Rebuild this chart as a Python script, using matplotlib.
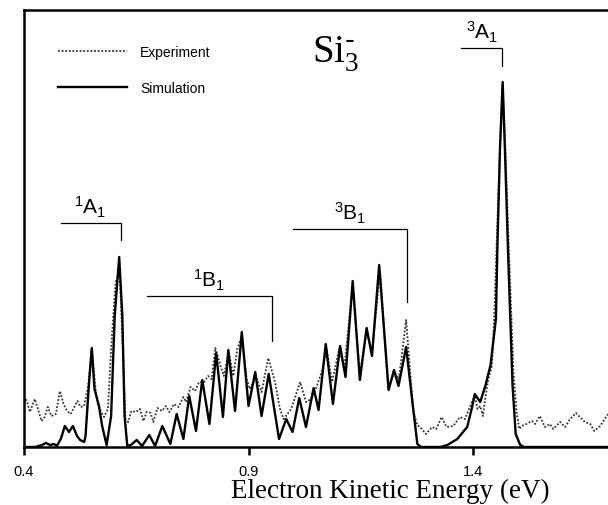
import matplotlib
matplotlib.use("Agg")
import matplotlib.pyplot as plt

plt.rcParams["font.family"] = ["Liberation Sans", "DejaVu Sans"]
plt.rcParams["mathtext.default"] = "regular"

# Simulation (solid) - energy in eV, intensity in arb. units
sim_energy = [
    0.400, 0.425, 0.440, 0.449, 0.458, 0.467, 0.473, 0.482, 0.491, 0.500,
    0.509, 0.518, 0.525, 0.534, 0.537, 0.545, 0.551, 0.557, 0.567, 0.574,
    0.584, 0.594, 0.602, 0.612, 0.619, 0.624, 0.630, 0.638, 0.651, 0.663,
    0.679, 0.692, 0.708, 0.726, 0.740, 0.755, 0.768, 0.783, 0.797, 0.813,
    0.828, 0.843, 0.855, 0.870, 0.885, 0.900, 0.915, 0.929, 0.945, 0.968,
    0.984, 0.998, 1.013, 1.028, 1.045, 1.056, 1.072, 1.088, 1.104, 1.116,
    1.132, 1.148, 1.163, 1.175, 1.191, 1.212, 1.224, 1.234, 1.251, 1.265,
    1.276, 1.284, 1.327, 1.343, 1.365, 1.387, 1.398, 1.404, 1.416, 1.428,
    1.439, 1.451, 1.454, 1.460, 1.466, 1.471, 1.478, 1.488, 1.495, 1.505,
    1.514, 1.700,
]
sim_intensity = [
    0, 0, 2, 4, 2, 3, 1, 8, 21, 15,
    21, 11, 7, 5, 11, 65, 99, 58, 41, 21,
    2, 31, 131, 190, 131, 31, 1, 2, 7, 1,
    12, 1, 21, 3, 33, 8, 51, 16, 67, 23,
    94, 30, 97, 36, 115, 41, 75, 31, 73, 8,
    28, 15, 49, 20, 59, 37, 103, 43, 101, 70,
    166, 67, 119, 91, 182, 57, 77, 61, 100, 45,
    3, 0, 0, 2, 8, 20, 40, 53, 45, 62,
    82, 128, 195, 298, 365, 298, 195, 62, 13, 2,
    0, 0,
]

# Experiment (dotted)
exp_energy = [
    0.400, 0.407, 0.413, 0.424, 0.431, 0.439, 0.446, 0.453, 0.461, 0.471,
    0.480, 0.488, 0.496, 0.504, 0.519, 0.526, 0.534, 0.543, 0.551, 0.560,
    0.565, 0.571, 0.578, 0.587, 0.594, 0.604, 0.613, 0.620, 0.626, 0.632,
    0.639, 0.649, 0.658, 0.666, 0.673, 0.682, 0.688, 0.697, 0.707, 0.716,
    0.724, 0.734, 0.744, 0.755, 0.761, 0.771, 0.781, 0.790, 0.801, 0.810,
    0.818, 0.826, 0.838, 0.845, 0.856, 0.866, 0.875, 0.885, 0.896, 0.903,
    0.917, 0.929, 0.944, 0.959, 0.970, 0.978, 0.995, 1.015, 1.028, 1.039,
    1.050, 1.065, 1.074, 1.086, 1.102, 1.113, 1.132, 1.148, 1.163, 1.175,
    1.193, 1.211, 1.225, 1.235, 1.251, 1.260, 1.267, 1.276, 1.286, 1.295,
    1.309, 1.318, 1.330, 1.341, 1.356, 1.371, 1.382, 1.393, 1.404, 1.410,
    1.416, 1.422, 1.427, 1.434, 1.442, 1.447, 1.453, 1.460, 1.466, 1.472,
    1.479, 1.490, 1.497, 1.503, 1.508, 1.519, 1.531, 1.538, 1.549, 1.560,
    1.571, 1.579, 1.594, 1.605, 1.616, 1.629, 1.638, 1.649, 1.661, 1.670,
    1.683, 1.698, 1.701,
]
exp_intensity = [
    51, 45, 35, 48, 38, 26, 30, 40, 31, 33,
    56, 43, 36, 33, 46, 40, 41, 61, 98, 55,
    41, 36, 30, 38, 98, 165, 176, 98, 28, 25,
    36, 35, 38, 26, 35, 34, 25, 39, 36, 41,
    35, 43, 40, 50, 45, 60, 56, 65, 65, 71,
    68, 99, 81, 71, 95, 71, 98, 111, 68, 58,
    70, 55, 89, 65, 38, 28, 38, 65, 45, 48,
    58, 78, 98, 65, 98, 78, 161, 73, 116, 95,
    176, 58, 75, 68, 127, 75, 35, 22, 18, 13,
    20, 18, 30, 20, 21, 30, 28, 40, 52, 38,
    41, 31, 48, 68, 81, 128, 208, 298, 362, 298,
    208, 75, 35, 18, 21, 23, 26, 23, 31, 20,
    23, 18, 25, 20, 28, 34, 30, 25, 23, 16,
    21, 31, 33,
]

# electronic state assignments (bracket span, bar height, tip height)
state_labels = ["$^{1}$A$_{1}$", "$^{1}$B$_{1}$", "$^{3}$B$_{1}$", "$^{3}$A$_{1}$"]
state_left = [0.482, 0.675, 0.999, 1.374]
state_right = [0.615, 0.952, 1.254, 1.465]
state_bar = [224, 151, 218, 399]
state_tip = [207, 106, 145, 381]

xticks = [0.4, 0.9, 1.4]
xticklabels = ["0.4", "0.9", "1.4"]

fig = plt.figure(figsize=(6.08, 5.06), dpi=100)
ax = fig.add_axes([24 / 608, 58 / 506, 584 / 608, 437 / 506])

ax.plot(exp_energy, exp_intensity, color="#333333", lw=1.3,
        ls=(0, (1, 1)), label="Experiment")
ax.plot(sim_energy, sim_intensity, color="black", lw=1.7, label="Simulation")

for lab, x0, x1, yb, yt in zip(state_labels, state_left, state_right,
                                state_bar, state_tip):
    ax.plot([x0, x1, x1], [yb, yb, yt], color="black", lw=0.9)
    ax.text((x0 + x1) / 2, yb + 4, lab, ha="center", va="bottom", fontsize=15)

ax.text(0.493, 0.883, r"Si$_{3}^{\text{-}}$", transform=ax.transAxes,
        fontsize=28, family="Liberation Serif", ha="left", va="baseline")

ax.legend(loc="upper left", bbox_to_anchor=(0.036, 0.949), frameon=False,
          fontsize=10, handlelength=5.0, handletextpad=0.95, labelspacing=1.6)

ax.set_xlim(0.4, 1.7006)
ax.set_ylim(0, 437)
ax.set_xticks(xticks)
ax.set_xticklabels(xticklabels)
ax.set_yticks([])
ax.tick_params(axis="x", direction="out", length=6, width=1.8, labelsize=10.5, pad=6)
for side in ["left", "top", "bottom"]:
    ax.spines[side].set_linewidth(1.8)
ax.spines["right"].set_visible(False)

xl = ax.set_xlabel("Electron Kinetic Energy (eV)", family="Liberation Serif",
                   fontsize=19.5, va="baseline")
ax.xaxis.set_label_coords(0.627, -0.115)

fig.savefig("out.png", dpi=100)
